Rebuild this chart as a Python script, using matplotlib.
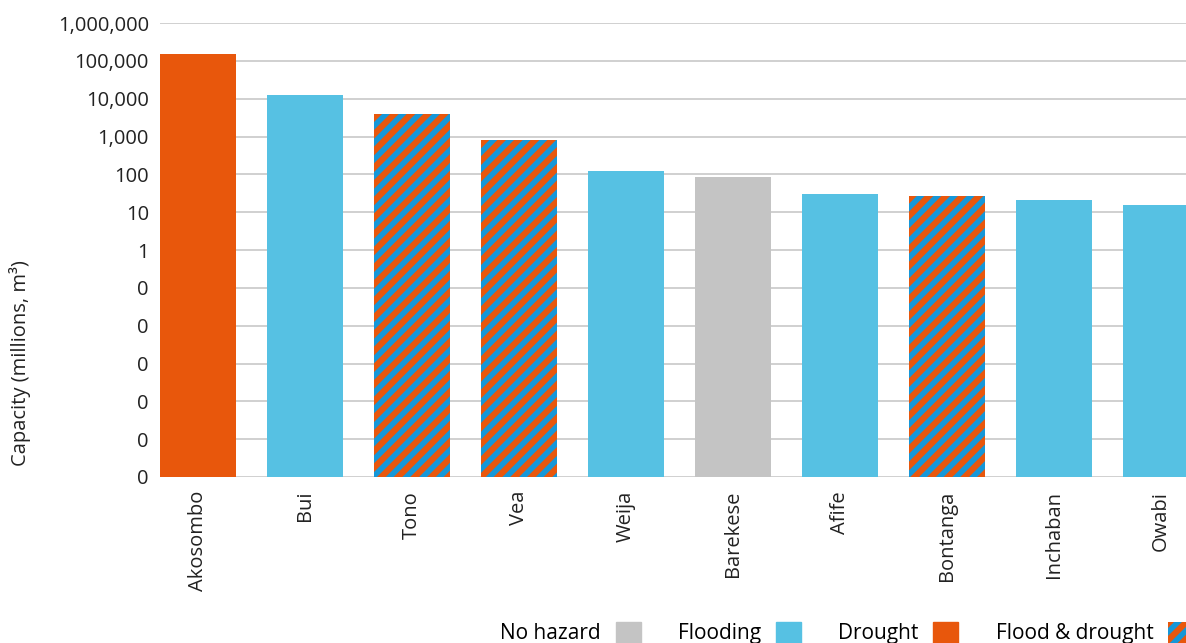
import matplotlib
matplotlib.use("Agg")
import matplotlib.pyplot as plt
from matplotlib.patches import Patch
from matplotlib.ticker import FuncFormatter, FixedLocator

plt.rcParams['font.family'] = ['Open Sans', 'DejaVu Sans']
plt.rcParams['hatch.linewidth'] = 4.0

reservoirs = ["Akosombo", "Bui", "Tono", "Vea", "Weija", "Barekese",
              "Afife", "Bontanga", "Inchaban", "Owabi"]
capacity = [155000, 12600, 4000, 830, 120, 83, 30, 26, 21, 15.5]
hazard = ["Drought", "Flooding", "Flood & drought", "Flood & drought", "Flooding",
          "No hazard", "Flooding", "Flood & drought", "Flooding", "Flooding"]
hazard_order = ["No hazard", "Flooding", "Drought", "Flood & drought"]

grey = "#C4C4C4"
light_blue = "#56C1E3"
orange = "#E8570C"
stripe_blue = "#1597D8"

def bar_style(h):
    if h == "No hazard":
        return dict(color=grey)
    if h == "Flooding":
        return dict(color=light_blue)
    if h == "Drought":
        return dict(color=orange)
    return dict(facecolor=orange, edgecolor=stripe_blue, hatch="//", linewidth=0)

fig = plt.figure(figsize=(11.86, 6.43), dpi=100)
ax = fig.add_axes([160/1186, 1 - 477/643, 1 - 160/1186, (477 - 23)/643])

for i, (c, h) in enumerate(zip(capacity, hazard)):
    ax.bar(i, c, width=0.71, bottom=1e-6, zorder=2, **bar_style(h))

ax.set_yscale("log")
ax.set_ylim(1e-6, 1e6)
ax.set_xlim(-0.355, 9.234)
ax.yaxis.set_major_locator(FixedLocator([10.0**k for k in range(-6, 7)]))
ax.yaxis.set_minor_locator(FixedLocator([]))
ax.yaxis.set_major_formatter(FuncFormatter(lambda v, p: "{:,.0f}".format(v)))
ax.grid(axis="y", color="#D0D0D0", linewidth=1.4, zorder=0)
for s in ax.spines.values():
    s.set_visible(False)
ax.tick_params(length=0, labelsize=14.5, colors="#222222")
ax.tick_params(axis="y", pad=8)
ax.tick_params(axis="x", pad=10)
ax.set_xticks(range(len(reservoirs)))
ax.set_xticklabels(reservoirs, rotation=90)
ax.set_ylabel("Capacity (millions, m³)", fontsize=14.5, color="#222222")
ax.yaxis.set_label_coords(-0.126, 0.25)

handles = [Patch(**bar_style(h), label=h) for h in hazard_order]
fig.legend(handles=handles, loc="lower left", bbox_to_anchor=(0.422, -0.002),
           ncol=4, frameon=False, markerfirst=False, fontsize=15,
           handlelength=1.2, handleheight=1.2, handletextpad=0.7,
           columnspacing=1.8, borderpad=0, borderaxespad=0)

fig.savefig("out.png", dpi=100)
